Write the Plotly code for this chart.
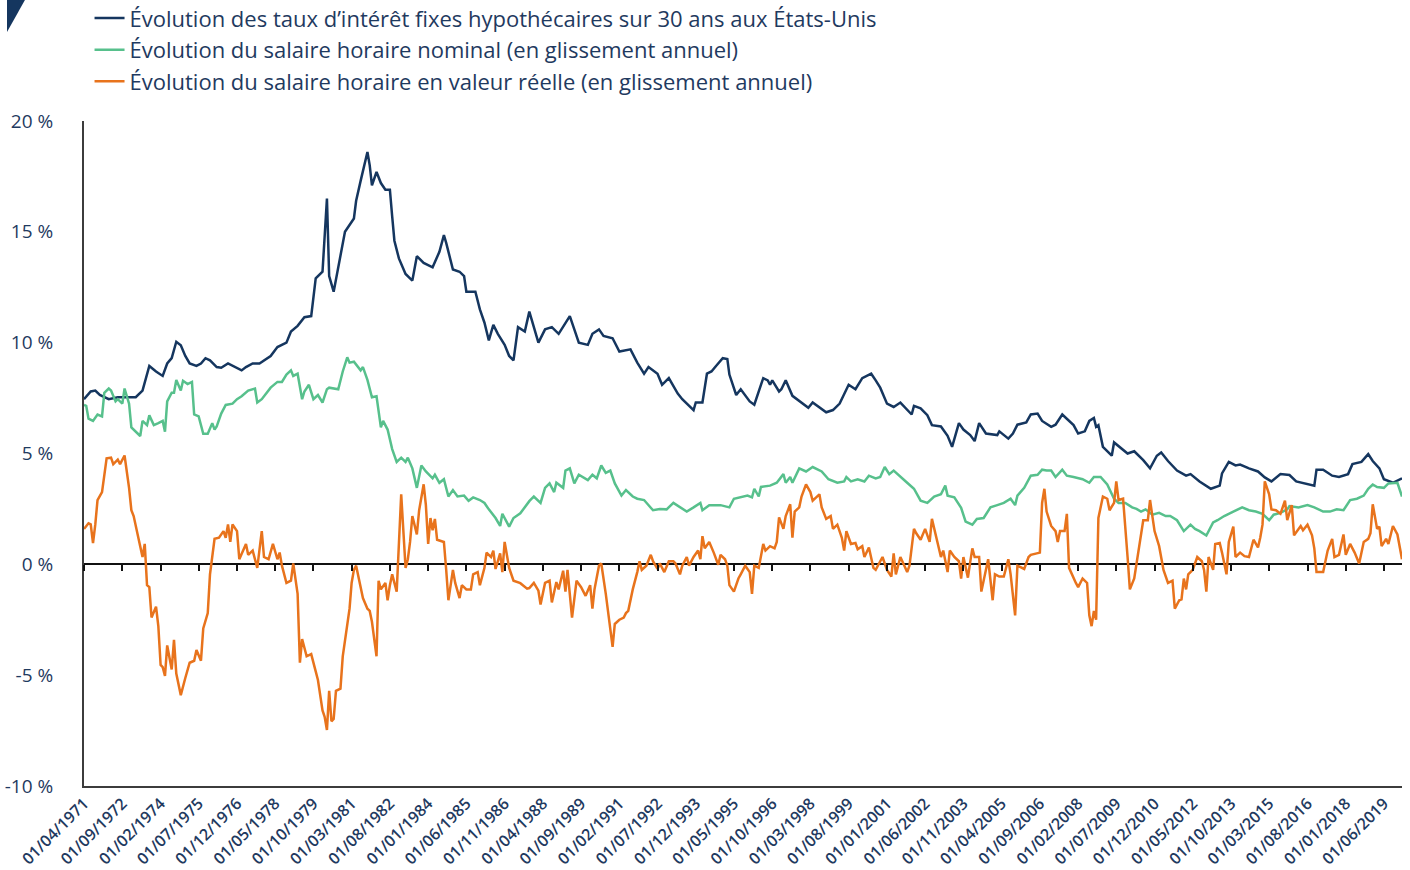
import plotly.graph_objects as go

# ---------------- data: (month, value in %) ----------------
mortgage_rate = [
    ("1971-04",7.45),("1971-07",7.8),("1971-09",7.84),("1971-11",7.64),("1972-03",7.45),("1972-07",7.54),
    ("1972-10",7.54),("1973-03",7.54),("1973-06",7.84),("1973-09",8.95),("1973-12",8.7),("1974-03",8.5),
    ("1974-05",9.06),("1974-07",9.3),("1974-09",10.04),("1974-11",9.88),("1975-01",9.4),("1975-03",9.06),
    ("1975-06",8.95),("1975-08",9.06),("1975-10",9.3),("1975-12",9.2),("1976-03",8.9),("1976-05",8.87),
    ("1976-08",9.06),("1976-11",8.9),("1977-02",8.75),("1977-04",8.9),("1977-07",9.06),("1977-10",9.06),
    ("1977-12",9.2),("1978-03",9.4),("1978-06",9.8),("1978-08",9.9),("1978-10",10.0),("1978-12",10.5),
    ("1979-03",10.76),("1979-06",11.15),("1979-09",11.2),("1979-11",12.9),("1980-02",13.2),("1980-04",16.5),
    ("1980-05",13.0),("1980-07",12.3),("1980-09",13.4),("1980-11",14.4),("1980-12",15.0),("1981-04",15.6),
    ("1981-05",16.4),("1981-07",17.3),("1981-10",18.6),("1981-11",18.0),("1981-12",17.1),("1982-02",17.7),
    ("1982-04",17.2),("1982-06",16.9),("1982-08",16.9),("1982-09",15.7),("1982-10",14.6),("1982-12",13.8),
    ("1983-03",13.1),("1983-06",12.8),("1983-08",13.9),("1983-11",13.6),("1984-03",13.4),("1984-06",14.1),
    ("1984-08",14.85),("1984-09",14.5),("1984-12",13.3),("1985-03",13.2),("1985-05",13.0),("1985-06",12.3),
    ("1985-10",12.3),("1985-12",11.5),("1986-02",10.9),("1986-04",10.1),("1986-06",10.8),("1986-08",10.4),
    ("1986-11",9.9),("1987-01",9.4),("1987-03",9.2),("1987-05",10.7),("1987-08",10.5),("1987-10",11.4),
    ("1987-12",10.7),("1988-02",10.0),("1988-05",10.6),("1988-08",10.7),("1988-11",10.4),("1989-02",10.9),
    ("1989-04",11.2),("1989-06",10.6),("1989-08",10.0),("1989-12",9.9),("1990-02",10.4),("1990-05",10.6),
    ("1990-07",10.3),("1990-11",10.2),("1991-02",9.6),("1991-07",9.7),("1991-10",9.1),("1992-01",8.6),
    ("1992-03",8.9),("1992-07",8.6),("1992-09",8.1),("1992-12",8.4),("1993-04",7.7),("1993-06",7.45),
    ("1993-11",6.96),("1993-12",7.3),("1994-03",7.3),("1994-05",8.6),("1994-07",8.7),("1994-09",8.95),
    ("1994-12",9.3),("1995-02",9.26),("1995-03",8.56),("1995-06",7.64),("1995-08",7.9),("1995-12",7.35),
    ("1996-02",7.2),("1996-05",8.1),("1996-06",8.4),("1996-08",8.3),("1996-09",8.1),("1996-10",8.3),
    ("1997-01",7.8),("1997-02",7.9),("1997-04",8.3),("1997-07",7.6),("1997-11",7.3),("1998-02",7.06),
    ("1998-04",7.3),("1998-07",7.1),("1998-10",6.86),("1999-01",6.96),("1999-04",7.25),("1999-08",8.1),
    ("1999-11",7.9),("2000-02",8.4),("2000-06",8.6),("2000-08",8.3),("2000-10",7.97),("2001-01",7.25),
    ("2001-04",7.1),("2001-07",7.3),("2001-10",7.0),("2001-12",6.76),("2002-01",7.15),("2002-04",7.04),
    ("2002-07",6.73),("2002-09",6.28),("2003-01",6.22),("2003-04",5.8),("2003-06",5.3),("2003-09",6.37),
    ("2003-11",6.08),("2004-02",5.83),("2004-04",5.56),("2004-06",6.37),("2004-09",5.9),("2005-02",5.83),
    ("2005-03",6.0),("2005-07",5.67),("2005-09",5.9),("2005-11",6.3),("2006-03",6.4),("2006-05",6.76),
    ("2006-08",6.8),("2006-10",6.47),("2007-02",6.2),("2007-04",6.3),("2007-07",6.76),("2007-09",6.57),
    ("2007-12",6.28),("2008-02",5.9),("2008-05",6.0),("2008-07",6.47),("2008-09",6.6),("2008-10",6.2),
    ("2008-11",6.28),("2009-01",5.3),("2009-05",4.9),("2009-06",5.5),("2009-09",5.24),("2009-12",5.0),
    ("2010-03",5.1),("2010-07",4.7),("2010-10",4.33),("2011-01",4.9),("2011-03",5.05),("2011-06",4.66),
    ("2011-10",4.23),("2012-02",4.0),("2012-04",4.07),("2012-08",3.74),("2013-01",3.41),("2013-05",3.55),
    ("2013-06",4.1),("2013-09",4.62),("2013-12",4.46),("2014-02",4.5),("2014-06",4.33),("2014-10",4.19),
    ("2015-01",3.92),("2015-04",3.74),("2015-08",4.07),("2015-12",4.03),("2016-03",3.74),("2016-08",3.6),
    ("2016-11",3.55),("2016-12",4.27),("2017-03",4.27),("2017-07",4.0),("2017-10",3.94),("2018-02",4.07),
    ("2018-04",4.52),("2018-08",4.62),("2018-11",4.97),("2019-01",4.66),("2019-04",4.33),("2019-06",3.84),
    ("2019-10",3.68),("2020-02",3.88),
]

nominal_wage = [
    ("1971-04",7.19),("1971-05",7.15),("1971-06",6.57),("1971-08",6.47),("1971-10",6.76),("1971-12",6.67),
    ("1972-01",7.74),("1972-03",7.93),("1972-04",7.84),("1972-06",7.35),("1972-07",7.45),("1972-09",7.25),
    ("1972-10",7.93),("1972-12",7.25),("1973-01",6.18),("1973-03",5.98),("1973-05",5.79),("1973-06",6.47),
    ("1973-08",6.28),("1973-09",6.72),("1973-11",6.28),("1974-01",6.37),("1974-03",6.47),("1974-04",5.98),
    ("1974-05",7.35),("1974-07",7.74),("1974-08",7.74),("1974-09",8.32),("1974-11",7.84),("1974-12",8.28),
    ("1975-02",8.13),("1975-04",8.23),("1975-05",6.76),("1975-07",6.67),("1975-09",5.89),("1975-11",5.89),
    ("1976-01",6.37),("1976-02",6.08),("1976-03",6.22),("1976-05",6.8),("1976-07",7.19),("1976-10",7.25),
    ("1976-12",7.45),("1977-02",7.58),("1977-05",7.84),("1977-08",7.93),("1977-09",7.3),("1977-11",7.45),
    ("1978-01",7.7),("1978-03",7.97),("1978-06",8.23),("1978-08",8.23),("1978-10",8.56),("1978-12",8.75),
    ("1979-01",8.5),("1979-03",8.6),("1979-05",7.45),("1979-06",7.8),("1979-08",8.1),("1979-10",7.45),
    ("1979-12",7.64),("1980-02",7.3),("1980-04",7.9),("1980-05",7.97),("1980-09",7.9),("1980-11",8.7),
    ("1981-01",9.34),("1981-02",9.1),("1981-04",9.14),("1981-07",8.75),("1981-08",8.9),("1981-10",8.32),
    ("1981-12",7.54),("1982-02",7.58),("1982-04",6.18),("1982-05",6.47),("1982-07",6.08),("1982-09",5.2),
    ("1982-11",4.62),("1983-01",4.81),("1983-03",4.62),("1983-04",4.81),("1983-06",4.33),("1983-08",3.45),
    ("1983-10",4.46),("1983-12",4.19),("1984-03",3.88),("1984-04",4.04),("1984-06",3.68),("1984-08",3.84),
    ("1984-10",3.06),("1984-12",3.35),("1985-02",3.06),("1985-05",3.1),("1985-07",2.87),("1985-09",3.02),
    ("1985-12",2.9),("1986-02",2.77),("1986-04",2.48),("1986-07",2.09),("1986-09",1.73),("1986-10",2.28),
    ("1987-01",1.7),("1987-03",2.09),("1987-06",2.3),("1987-10",2.85),("1987-12",3.06),("1988-03",2.77),
    ("1988-05",3.45),("1988-07",3.65),("1988-09",3.26),("1988-10",3.68),("1989-01",3.45),("1989-02",4.23),
    ("1989-04",4.33),("1989-06",3.65),("1989-08",4.04),("1989-12",3.8),("1990-02",4.04),("1990-04",3.88),
    ("1990-06",4.46),("1990-08",4.13),("1990-10",4.23),("1990-12",3.65),("1991-03",3.1),("1991-05",3.35),
    ("1991-08",3.06),("1991-10",2.96),("1992-01",2.9),("1992-03",2.67),("1992-05",2.44),("1992-08",2.5),
    ("1992-11",2.48),("1993-02",2.77),("1993-05",2.57),("1993-08",2.38),("1993-11",2.57),("1994-02",2.77),
    ("1994-03",2.44),("1994-06",2.67),("1994-11",2.67),("1995-03",2.57),("1995-05",2.96),("1995-08",3.02),
    ("1995-11",3.1),("1996-01",3.02),("1996-02",3.41),("1996-04",3.06),("1996-05",3.49),("1996-09",3.55),
    ("1996-12",3.68),("1997-03",4.07),("1997-04",3.68),("1997-06",3.94),("1997-07",3.68),("1997-10",4.33),
    ("1998-01",4.19),("1998-04",4.39),("1998-08",4.19),("1998-11",3.84),("1999-03",3.68),("1999-06",3.74),
    ("1999-07",3.94),("1999-09",3.74),("1999-12",3.84),("2000-03",3.74),("2000-05",4.0),("2000-08",3.88),
    ("2000-10",3.94),("2000-12",4.39),("2001-02",4.07),("2001-04",4.23),("2001-07",3.94),("2001-10",3.68),
    ("2002-01",3.41),("2002-04",2.87),("2002-07",2.77),("2002-10",3.06),("2003-01",3.16),("2003-03",3.55),
    ("2003-04",3.1),("2003-07",3.02),("2003-10",2.55),("2003-12",1.93),("2004-03",1.79),("2004-05",2.05),
    ("2004-08",2.09),("2004-11",2.57),("2005-02",2.67),("2005-05",2.77),("2005-08",2.96),("2005-10",2.67),
    ("2005-11",3.1),("2006-02",3.45),("2006-05",4.0),("2006-08",4.04),("2006-10",4.27),("2006-12",4.23),
    ("2007-02",4.23),("2007-04",3.94),("2007-07",4.27),("2007-09",4.0),("2007-12",3.94),("2008-04",3.84),
    ("2008-07",3.68),("2008-09",3.94),("2008-12",3.94),("2009-03",3.6),("2009-06",2.96),("2009-08",2.77),
    ("2009-11",2.77),("2010-02",2.57),("2010-04",2.5),("2010-06",2.38),("2010-08",2.48),("2010-11",2.24),
    ("2011-02",2.32),("2011-05",2.18),("2011-07",2.18),("2011-10",1.99),("2012-01",1.5),("2012-04",1.79),
    ("2012-06",1.6),("2012-08",1.5),("2012-11",1.3),("2013-02",1.89),("2013-04",1.99),("2013-07",2.18),
    ("2013-11",2.38),("2014-03",2.57),("2014-06",2.44),("2014-09",2.38),("2014-12",2.28),("2015-03",1.99),
    ("2015-05",2.24),("2015-08",2.32),("2015-11",2.48),("2015-12",2.63),("2016-04",2.57),("2016-08",2.67),
    ("2016-11",2.57),("2017-03",2.38),("2017-06",2.38),("2017-09",2.48),("2017-12",2.44),("2018-03",2.9),
    ("2018-06",2.96),("2018-09",3.1),("2018-11",3.41),("2019-01",3.6),("2019-03",3.49),("2019-06",3.45),
    ("2019-08",3.65),("2019-12",3.68),("2020-02",3.06),
]

real_wage = [
    ("1971-04",1.6),("1971-06",1.85),("1971-07",1.8),("1971-08",0.96),("1971-09",1.8),("1971-10",2.9),
    ("1971-12",3.26),("1972-01",4.03),("1972-02",4.78),("1972-04",4.81),("1972-05",4.52),("1972-06",4.62),
    ("1972-07",4.72),("1972-08",4.52),("1972-09",4.72),("1972-10",4.91),("1972-12",3.45),("1973-01",2.44),
    ("1973-02",2.18),("1973-04",1.2),("1973-06",0.33),("1973-07",0.92),("1973-08",-0.94),("1973-09",-1.03),
    ("1973-10",-2.4),("1973-12",-1.91),("1974-01",-2.79),("1974-02",-4.54),("1974-03",-4.64),("1974-04",-5.03),
    ("1974-05",-3.66),("1974-07",-4.74),("1974-08",-3.41),("1974-09",-4.93),("1974-11",-5.9),("1975-01",-5.13),
    ("1975-03",-4.44),("1975-05",-4.35),("1975-06",-3.86),("1975-08",-4.35),("1975-09",-2.89),("1975-11",-2.2),
    ("1975-12",-0.45),("1976-02",1.15),("1976-04",1.2),("1976-06",1.5),("1976-07",1.2),("1976-08",1.8),
    ("1976-09",1.01),("1976-10",1.8),("1976-12",1.5),("1977-01",0.23),("1977-04",0.92),("1977-05",0.43),
    ("1977-07",0.62),("1977-09",-0.16),("1977-11",1.5),("1977-12",0.33),("1978-02",0.23),("1978-04",0.92),
    ("1978-06",0.23),("1978-07",0.53),("1978-08",-0.06),("1978-10",-0.84),("1978-12",-0.74),("1979-01",0.04),
    ("1979-03",-1.33),("1979-04",-4.44),("1979-05",-3.37),("1979-07",-4.15),("1979-09",-4.05),("1979-11",-4.83),
    ("1979-12",-5.22),("1980-02",-6.59),("1980-03",-6.88),("1980-04",-7.47),("1980-05",-5.71),("1980-06",-7.08),
    ("1980-07",-6.98),("1980-08",-5.71),("1980-10",-5.61),("1980-11",-4.15),("1981-01",-2.79),("1981-02",-2.0),
    ("1981-03",-0.84),("1981-04",-0.25),("1981-05",-0.06),("1981-07",-1.03),("1981-08",-1.52),("1981-10",-2.0),
    ("1981-11",-2.1),("1981-12",-2.59),("1982-02",-4.15),("1982-03",-0.74),("1982-04",-1.13),("1982-06",-0.84),
    ("1982-07",-1.62),("1982-08",-0.94),("1982-09",-0.45),("1982-11",-1.23),("1982-12",1.11),("1983-01",3.16),
    ("1983-03",-0.16),("1983-04",0.23),("1983-05",1.01),("1983-06",2.18),("1983-08",1.35),("1983-09",2.44),
    ("1983-11",3.61),("1983-12",2.67),("1984-01",0.92),("1984-02",2.09),("1984-03",1.54),("1984-04",2.05),
    ("1984-05",1.11),("1984-08",1.01),("1984-09",-0.25),("1984-10",-1.62),("1984-12",-0.25),("1985-01",-0.84),
    ("1985-03",-1.52),("1985-04",-0.94),("1985-06",-1.13),("1985-08",-1.13),("1985-09",-0.45),("1985-11",-0.35),
    ("1985-12",-0.94),("1986-02",-0.16),("1986-03",0.53),("1986-05",0.33),("1986-06",0.62),("1986-07",-0.21),
    ("1986-09",0.49),("1986-10",-0.35),("1986-11",1.01),("1986-12",0.33),("1987-01",-0.16),("1987-03",-0.74),
    ("1987-06",-0.85),("1987-09",-1.1),("1987-10",-1.07),("1987-12",-0.84),("1988-02",-1.19),("1988-03",-1.81),
    ("1988-05",-0.84),("1988-07",-0.74),("1988-08",-1.72),("1988-10",-0.8),("1988-11",-1.13),("1989-01",-0.29),
    ("1989-02",-1.23),("1989-03",-0.25),("1989-05",-2.4),("1989-07",-0.74),("1989-09",-1.03),("1989-11",-1.42),
    ("1990-01",-0.94),("1990-02",-2.0),("1990-03",-1.13),("1990-05",-0.06),("1990-06",0.04),("1990-08",-1.33),
    ("1990-09",-2.1),("1990-11",-3.72),("1990-12",-2.69),("1991-02",-2.5),("1991-04",-2.4),("1991-05",-2.2),
    ("1991-06",-2.1),("1991-08",-1.13),("1991-10",-0.35),("1991-11",0.14),("1991-12",-0.25),("1992-02",-0.06),
    ("1992-04",0.43),("1992-05",0.14),("1992-07",-0.21),("1992-08",0.04),("1992-10",-0.35),("1992-12",0.14),
    ("1993-02",0.14),("1993-03",0.04),("1993-05",-0.45),("1993-06",-0.06),("1993-08",0.33),("1993-09",-0.06),
    ("1993-11",0.33),("1994-01",0.62),("1994-02",0.23),("1994-03",1.27),("1994-04",0.72),("1994-06",1.01),
    ("1994-08",0.53),("1994-10",-0.02),("1994-11",0.43),("1995-01",0.23),("1995-02",-0.06),("1995-03",-0.94),
    ("1995-05",-1.23),("1995-07",-0.64),("1995-08",-0.45),("1995-10",-0.06),("1995-12",-0.35),("1996-01",-1.33),
    ("1996-02",-0.06),("1996-04",-0.16),("1996-06",0.92),("1996-07",0.62),("1996-09",0.82),("1996-11",0.72),
    ("1996-12",1.01),("1997-01",2.12),("1997-03",1.6),("1997-04",2.18),("1997-06",2.71),("1997-07",1.2),
    ("1997-08",2.38),("1997-10",2.57),("1997-11",3.06),("1998-01",3.61),("1998-03",3.26),("1998-04",2.87),
    ("1998-07",3.16),("1998-08",2.57),("1998-10",2.05),("1998-12",2.18),("1999-01",1.6),("1999-03",1.79),
    ("1999-05",1.2),("1999-06",0.62),("1999-07",1.5),("1999-09",0.92),("1999-11",0.96),("1999-12",0.68),
    ("2000-02",0.82),("2000-03",0.33),("2000-05",0.76),("2000-07",-0.16),("2000-08",-0.25),("2000-11",0.33),
    ("2001-01",-0.25),("2001-03",-0.55),("2001-04",0.49),("2001-05",-0.45),("2001-07",0.33),("2001-10",-0.35),
    ("2001-11",-0.06),("2002-01",1.6),("2002-02",1.4),("2002-04",1.11),("2002-06",1.6),("2002-08",1.01),
    ("2002-09",2.05),("2002-11",1.2),("2003-01",0.33),("2003-02",0.62),("2003-04",-0.35),("2003-05",0.62),
    ("2003-07",0.33),("2003-09",0.14),("2003-10",-0.64),("2003-11",0.33),("2004-01",-0.6),("2004-02",0.1),
    ("2004-03",0.72),("2004-04",0.33),("2004-06",0.33),("2004-07",-1.23),("2004-09",-0.25),("2004-10",0.23),
    ("2004-12",-1.62),("2005-01",-0.45),("2005-03",-0.55),("2005-05",-0.55),("2005-07",0.23),("2005-08",-0.45),
    ("2005-10",-2.3),("2005-11",-0.06),("2006-02",-0.21),("2006-04",0.33),("2006-05",0.43),("2006-09",0.53),
    ("2006-10",2.77),("2006-11",3.41),("2006-12",2.38),("2007-02",1.73),("2007-04",1.5),("2007-05",1.01),
    ("2007-06",1.5),("2007-08",1.5),("2007-09",2.28),("2007-10",-0.16),("2008-01",-0.84),("2008-02",-1.03),
    ("2008-04",-0.64),("2008-06",-0.84),("2008-07",-2.3),("2008-08",-2.79),("2008-09",-2.1),("2008-10",-2.5),
    ("2008-11",2.09),("2009-01",3.06),("2009-03",2.96),("2009-04",2.44),("2009-06",2.77),("2009-07",3.74),
    ("2009-08",2.9),("2009-10",2.96),("2009-12",0.33),("2010-01",-1.13),("2010-03",-0.64),("2010-05",0.62),
    ("2010-07",1.99),("2010-09",1.99),("2010-10",2.9),("2010-12",1.5),("2011-02",0.82),("2011-04",-0.25),
    ("2011-06",-0.84),("2011-08",-0.74),("2011-09",-2.0),("2011-11",-1.62),("2011-12",-1.58),("2012-01",-0.64),
    ("2012-02",-1.13),("2012-03",-0.45),("2012-04",-0.35),("2012-05",-0.25),("2012-07",0.33),("2012-09",0.14),
    ("2012-10",-0.25),("2012-11",-1.23),("2012-12",0.33),("2013-02",-0.25),("2013-03",0.92),("2013-05",0.96),
    ("2013-06",0.53),("2013-08",-0.45),("2013-09",1.01),("2013-11",1.7),("2013-12",0.33),("2014-02",0.53),
    ("2014-04",0.37),("2014-06",0.33),("2014-08",1.11),("2014-10",0.76),("2014-11",1.21),("2014-12",1.79),
    ("2015-01",3.74),("2015-03",3.16),("2015-04",2.48),("2015-06",2.44),("2015-08",2.28),("2015-10",2.87),
    ("2015-11",1.99),("2016-01",2.67),("2016-02",1.31),("2016-05",1.73),("2016-06",1.54),("2016-08",1.79),
    ("2016-10",1.31),("2016-11",0.72),("2016-12",-0.35),("2017-03",-0.35),("2017-05",0.62),("2017-07",1.15),
    ("2017-08",0.33),("2017-10",0.43),("2017-12",1.35),("2018-01",0.43),("2018-03",0.92),("2018-05",0.53),
    ("2018-07",0.04),("2018-09",1.01),("2018-11",1.15),("2018-12",1.4),("2019-01",2.71),("2019-03",1.6),
    ("2019-04",1.7),("2019-05",0.82),("2019-07",1.15),("2019-08",0.92),("2019-10",1.73),("2019-12",1.35),
    ("2020-02",0.23),
]

series_names = [
    "Évolution des taux d’intérêt fixes hypothécaires sur 30 ans aux États-Unis",
    "Évolution du salaire horaire nominal (en glissement annuel)",
    "Évolution du salaire horaire en valeur réelle (en glissement annuel)",
]

x_tick_labels = ["01/04/1971","01/09/1972","01/02/1974","01/07/1975","01/12/1976","01/05/1978","01/10/1979",
                 "01/03/1981","01/08/1982","01/01/1984","01/06/1985","01/11/1986","01/04/1988","01/09/1989",
                 "01/02/1991","01/07/1992","01/12/1993","01/05/1995","01/10/1996","01/03/1998","01/08/1999",
                 "01/01/2001","01/06/2002","01/11/2003","01/04/2005","01/09/2006","01/02/2008","01/07/2009",
                 "01/12/2010","01/05/2012","01/10/2013","01/03/2015","01/08/2016","01/01/2018","01/06/2019"]
y_tick_values = [-10, -5, 0, 5, 10, 15, 20]
y_tick_labels = ["-10 %", "-5 %", "0 %", "5 %", "10 %", "15 %", "20 %"]
x_range = ["1971-04-01", "2020-02-01"]

# ---------------- styling ----------------
NAVY = "#15365f"
GREEN = "#57c08c"
ORANGE = "#e8731c"
TEXT = "#1f3a60"
FONT = "Open Sans"

x_tick_vals = [f"{s[6:10]}-{s[3:5]}-{s[0:2]}" for s in x_tick_labels]

fig = go.Figure()
for data, name, color in [(mortgage_rate, series_names[0], NAVY),
                          (nominal_wage, series_names[1], GREEN),
                          (real_wage, series_names[2], ORANGE)]:
    fig.add_trace(go.Scatter(x=[d for d, _ in data], y=[v for _, v in data], mode="lines",
                             name=name, line=dict(color=color, width=2.5)))
# helper trace so that the zero-line tick axis is drawn
fig.add_trace(go.Scatter(x=[x_range[0]], y=[None], xaxis="x2", yaxis="y", showlegend=False,
                         hoverinfo="skip", mode="lines"))

fig.update_layout(
    template="none",
    width=1410, height=870,
    margin=dict(l=84, r=8, t=121, b=84, autoexpand=False),
    paper_bgcolor="white", plot_bgcolor="white",
    font=dict(family=FONT, color=TEXT),
    showlegend=True,
    legend=dict(x=0.0042, y=1.186, xanchor="left", yanchor="top",
                font=dict(size=22, color=TEXT, family=FONT),
                bgcolor="rgba(0,0,0,0)", borderwidth=0, tracegroupgap=0),
    xaxis=dict(type="date", range=x_range, tickvals=x_tick_vals, ticktext=x_tick_labels,
               tickangle=-45, tickfont=dict(size=16, color=TEXT, family=FONT, weight=600),
               showgrid=False, zeroline=False, showline=True, linecolor="#3c3c3c", linewidth=2,
               ticks="", automargin=False),
    xaxis2=dict(type="date", range=x_range, tickvals=x_tick_vals, overlaying="x",
                anchor="free", position=1/3, showticklabels=False, showgrid=False,
                zeroline=False, showline=False, ticks="outside", ticklen=6, tickwidth=1.5,
                tickcolor="#111111", automargin=False),
    yaxis=dict(range=[-10, 20], tickvals=y_tick_values, ticktext=y_tick_labels,
               tickfont=dict(size=19, color=TEXT, family=FONT),
               showgrid=False, showline=True, linecolor="#3c3c3c", linewidth=2,
               zeroline=True, zerolinecolor="#111111", zerolinewidth=1.5,
               ticks="", ticklabelstandoff=25, automargin=False),
    shapes=[dict(type="path", xref="paper", yref="paper",
                 path="M -0.0584,1.182 L -0.0448,1.182 L -0.0584,1.1338 Z",
                 fillcolor=NAVY, line=dict(width=0))],
)

# remove the browser's default 8 px page margin so the figure fills the window exactly
fig.write_html("out.html", config={"displayModeBar": False},
               post_script="document.body.style.margin='0px';")
